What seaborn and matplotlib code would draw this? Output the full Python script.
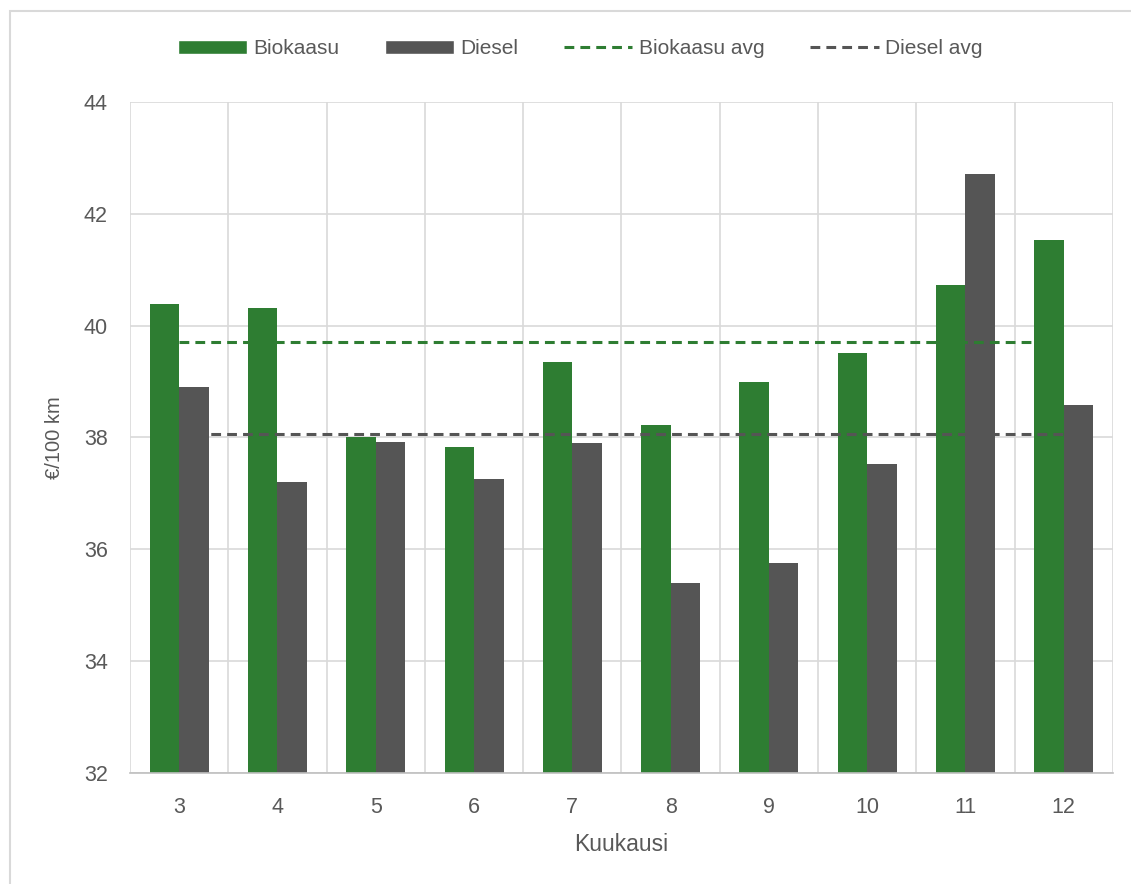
import numpy as np
import pandas as pd
import matplotlib
matplotlib.use("Agg")
import matplotlib.pyplot as plt
import seaborn as sns
from matplotlib.patches import Patch, Rectangle
from matplotlib.lines import Line2D

# data
months = [3, 4, 5, 6, 7, 8, 9, 10, 11, 12]
biokaasu = [40.39, 40.32, 38.01, 37.83, 39.35, 38.22, 38.99, 39.52, 40.72, 41.53]
diesel = [38.91, 37.20, 37.92, 37.25, 37.90, 35.39, 35.76, 37.52, 42.71, 38.59]
biokaasu_avg = 39.70
diesel_avg = 38.07

green = "#2E7D32"
gray = "#555555"
text_c = "#595959"
grid_c = "#D9D9D9"
dash = (0, (3.2, 2.0))

df = pd.DataFrame({
    "Kuukausi": months * 2,
    "value": biokaasu + diesel,
    "series": ["Biokaasu"] * len(months) + ["Diesel"] * len(months),
})

sns.set_theme(style="white")
plt.rcParams["font.family"] = ["Liberation Sans", "DejaVu Sans"]

fig = plt.figure(figsize=(11.31, 8.84), dpi=100)
ax = fig.add_axes([0.115, 0.1256, 0.869, 0.759])

sns.barplot(data=df, x="Kuukausi", y="value", hue="series",
            palette=[green, gray], width=0.6, gap=0, saturation=1,
            linewidth=0, legend=False, ax=ax, zorder=2)

# average lines, from first to last month, drawn over the bars
xpos = np.arange(len(months))
ax.plot(xpos, [biokaasu_avg] * len(months), color=green, lw=2.2,
        linestyle=dash, zorder=5)
ax.plot(xpos, [diesel_avg] * len(months), color=gray, lw=2.2,
        linestyle=dash, zorder=5)

ax.set_ylim(32, 44)
ax.set_yticks(range(32, 45, 2))
ax.set_xlim(-0.5, len(months) - 0.5)
ax.set_xticks(xpos)
ax.set_xticklabels([str(m) for m in months])
ax.set_xticks(np.arange(-0.5, len(months), 1), minor=True)

ax.grid(axis="y", which="major", color=grid_c, lw=1.2, zorder=0)
ax.grid(axis="x", which="minor", color=grid_c, lw=1.2, zorder=0)
ax.grid(axis="x", which="major", visible=False)
ax.set_axisbelow(True)

for s in ["top", "right", "left"]:
    ax.spines[s].set_visible(False)
ax.spines["bottom"].set_color("#BFBFBF")
ax.spines["bottom"].set_linewidth(1.2)

ax.tick_params(axis="both", which="both", length=0, labelsize=15.5, colors=text_c)
ax.tick_params(axis="y", pad=16)
ax.tick_params(axis="x", pad=17)
ax.set_xlabel("Kuukausi", fontsize=16.5, color=text_c, labelpad=11)
ax.set_ylabel("€/100 km", fontsize=14.5, color=text_c, labelpad=14)

handles = [
    Patch(facecolor=green, label="Biokaasu"),
    Patch(facecolor=gray, label="Diesel"),
    Line2D([], [], color=green, lw=2.2, linestyle=dash, label="Biokaasu avg"),
    Line2D([], [], color=gray, lw=2.2, linestyle=dash, label="Diesel avg"),
]
leg = fig.legend(handles=handles, loc="center", bbox_to_anchor=(0.513, 0.945), ncol=4,
                 frameon=False, fontsize=15, handlelength=3.3, handleheight=0.7,
                 columnspacing=2.2, handletextpad=0.3)
for t in leg.get_texts():
    t.set_color(text_c)

# chart area border
fig.patches.append(Rectangle((0.009, -0.01), 1.2, 0.998, transform=fig.transFigure,
                             fill=False, edgecolor=grid_c, lw=1.5))

fig.savefig("out.png", dpi=100)
